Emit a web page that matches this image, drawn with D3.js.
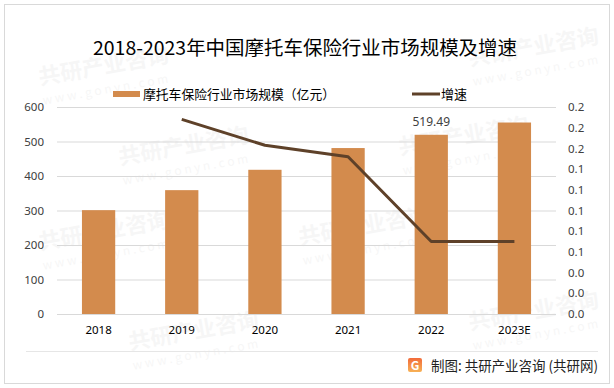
<!DOCTYPE html>
<html>
<head>
<meta charset="utf-8">
<script src="https://cdn.jsdelivr.net/npm/d3@7"></script>
<style>
  body { margin: 0; background: #fff; }
  svg { font-family: "Noto Sans CJK SC", "Microsoft YaHei", sans-serif; }
</style>
</head>
<body>
<div class="chart-container"></div>
<script>
// --- Data ---
const years = ["2018", "2019", "2020", "2021", "2022", "2023E"];
const marketSize = [301, 359, 418, 481, 519.49, 555];
const growth = [null, 0.188, 0.163, 0.152, 0.07, 0.07];
const leftTicks = [0, 100, 200, 300, 400, 500, 600];
const rightTicks = [0, 0.02, 0.04, 0.06, 0.08, 0.1, 0.12, 0.14, 0.16, 0.18, 0.2];

// --- Layout ---
const w = 614;
const h = 388;
const plotLeft = 57, plotRight = 556, plotTop = 107, plotBottom = 314;

const barColor = "#D38B4D";
const lineColor = "#5E4129";

const svg = d3.select(".chart-container")
    .append("svg")
    .attr("width", w)
    .attr("height", h);

// outer frame
svg.append("rect")
    .attr("x", 4.5).attr("y", 4.5)
    .attr("width", 605).attr("height", 379)
    .attr("fill", "#fff")
    .attr("stroke", "#d9d9d9");

// faint watermarks
const marks = [[40, 85], [470, 66], [120, 165], [400, 155], [40, 250], [300, 245], [130, 350], [470, 330]];
marks.forEach(function (m) {
    const g = svg.append("g")
        .attr("transform", "translate(" + m[0] + "," + m[1] + ") rotate(-10)")
        .attr("opacity", 0.045);
    g.append("text").text("共研产业咨询")
        .attr("font-size", 22).attr("font-weight", "bold").attr("fill", "#444");
    g.append("text").text("w w w . g o n y n . c o m")
        .attr("y", 20).attr("font-size", 12).attr("fill", "#444");
});

// title
svg.append("text")
    .attr("x", 93).attr("y", 55)
    .attr("font-size", 19)
    .attr("textLength", 424)
    .attr("lengthAdjust", "spacingAndGlyphs")
    .attr("fill", "#000")
    .text("2018-2023年中国摩托车保险行业市场规模及增速");

// scales
const xScale = d3.scaleBand()
    .domain(years)
    .range([plotLeft, plotRight])
    .paddingInner(0.6)
    .paddingOuter(0.3);

const yScale = d3.scaleLinear()
    .domain([0, 600])
    .range([plotBottom, plotTop]);

const y2Scale = d3.scaleLinear()
    .domain([0, 0.2])
    .range([plotBottom, plotTop]);

// gridlines
svg.append("g")
    .selectAll("line")
    .data(leftTicks.slice(1))
    .enter()
    .append("line")
    .attr("x1", plotLeft).attr("x2", plotRight)
    .attr("y1", function (d) { return yScale(d) + 0.5; })
    .attr("y2", function (d) { return yScale(d) + 0.5; })
    .attr("stroke", "#d9d9d9");

// left axis
const yAxis = d3.axisLeft(yScale).tickValues(leftTicks).tickSize(0).tickPadding(13);
svg.append("g")
    .attr("transform", "translate(" + plotLeft + ",0)")
    .call(yAxis)
    .call(function (g) { g.select(".domain").remove(); })
    .selectAll("text")
    .attr("font-size", 11.5)
    .attr("font-family", "'Noto Sans', sans-serif")
    .attr("fill", "#404040");

// right axis
const y2Axis = d3.axisRight(y2Scale).tickValues(rightTicks).tickSize(0).tickPadding(12)
    .tickFormat(d3.format(".1f"));
svg.append("g")
    .attr("transform", "translate(" + plotRight + ",0)")
    .call(y2Axis)
    .call(function (g) { g.select(".domain").remove(); })
    .selectAll("text")
    .attr("font-size", 11.5)
    .attr("font-family", "'Noto Sans', sans-serif")
    .attr("fill", "#404040");

// bars
svg.selectAll("rect.bar")
    .data(marketSize)
    .enter()
    .append("rect")
    .attr("class", "bar")
    .attr("x", function (d, i) { return xScale(years[i]); })
    .attr("y", function (d) { return yScale(d); })
    .attr("width", xScale.bandwidth())
    .attr("height", function (d) { return plotBottom - yScale(d); })
    .attr("fill", barColor);

// baseline
svg.append("line")
    .attr("x1", plotLeft).attr("x2", plotRight)
    .attr("y1", plotBottom + 0.5).attr("y2", plotBottom + 0.5)
    .attr("stroke", "#d9d9d9");

// x axis
const xAxis = d3.axisBottom(xScale).tickSize(0).tickPadding(12);
svg.append("g")
    .attr("transform", "translate(0," + plotBottom + ")")
    .call(xAxis)
    .call(function (g) { g.select(".domain").remove(); })
    .selectAll("text")
    .attr("font-size", 11.5)
    .attr("font-family", "'Noto Sans', sans-serif")
    .attr("fill", "#000");

// growth line
const lineData = growth.map(function (d, i) { return [years[i], d]; })
    .filter(function (d) { return d[1] !== null; });
const line = d3.line()
    .x(function (d) { return xScale(d[0]) + xScale.bandwidth() / 2; })
    .y(function (d) { return y2Scale(d[1]); });
svg.append("path")
    .datum(lineData)
    .attr("d", line)
    .attr("fill", "none")
    .attr("stroke", lineColor)
    .attr("stroke-width", 3)
    .attr("stroke-linejoin", "round");

// data label on 2022
svg.append("text")
    .attr("x", xScale("2022") + xScale.bandwidth() / 2)
    .attr("y", yScale(marketSize[4]) - 9)
    .attr("text-anchor", "middle")
    .attr("font-size", 12)
    .attr("font-family", "'Noto Sans', sans-serif")
    .attr("fill", "#404040")
    .text(d3.format(".2f")(marketSize[4]));

// legend
svg.append("rect")
    .attr("x", 113).attr("y", 91)
    .attr("width", 27).attr("height", 6)
    .attr("fill", barColor);
svg.append("text")
    .attr("x", 143).attr("y", 98.5)
    .attr("font-size", 13)
    .attr("textLength", 192)
    .attr("lengthAdjust", "spacingAndGlyphs")
    .attr("fill", "#000")
    .text("摩托车保险行业市场规模（亿元）");
svg.append("line")
    .attr("x1", 412).attr("x2", 440)
    .attr("y1", 94).attr("y2", 94)
    .attr("stroke", lineColor)
    .attr("stroke-width", 3);
svg.append("text")
    .attr("x", 441).attr("y", 98.5)
    .attr("font-size", 13)
    .attr("fill", "#000")
    .text("增速");

// footer
svg.append("line")
    .attr("x1", 26).attr("x2", 598)
    .attr("y1", 351.5).attr("y2", 351.5)
    .attr("stroke", "#e6e6e6");

const grad = svg.append("defs").append("linearGradient")
    .attr("id", "logoGrad").attr("x1", 0).attr("y1", 0).attr("x2", 0).attr("y2", 1);
grad.append("stop").attr("offset", 0).attr("stop-color", "#F26B3A");
grad.append("stop").attr("offset", 1).attr("stop-color", "#F7B155");

const logo = svg.append("g").attr("transform", "translate(408,358)");
logo.append("rect")
    .attr("width", 14).attr("height", 14).attr("rx", 2)
    .attr("fill", "url(#logoGrad)");
logo.append("text")
    .attr("x", 7).attr("y", 11.5)
    .attr("text-anchor", "middle")
    .attr("font-size", 12).attr("font-weight", "bold")
    .attr("fill", "#fff")
    .text("G");

svg.append("text")
    .attr("x", 431).attr("y", 370.5)
    .attr("font-size", 14)
    .attr("textLength", 167)
    .attr("lengthAdjust", "spacingAndGlyphs")
    .attr("fill", "#222")
    .text("制图: 共研产业咨询 (共研网)");
</script>
</body>
</html>
